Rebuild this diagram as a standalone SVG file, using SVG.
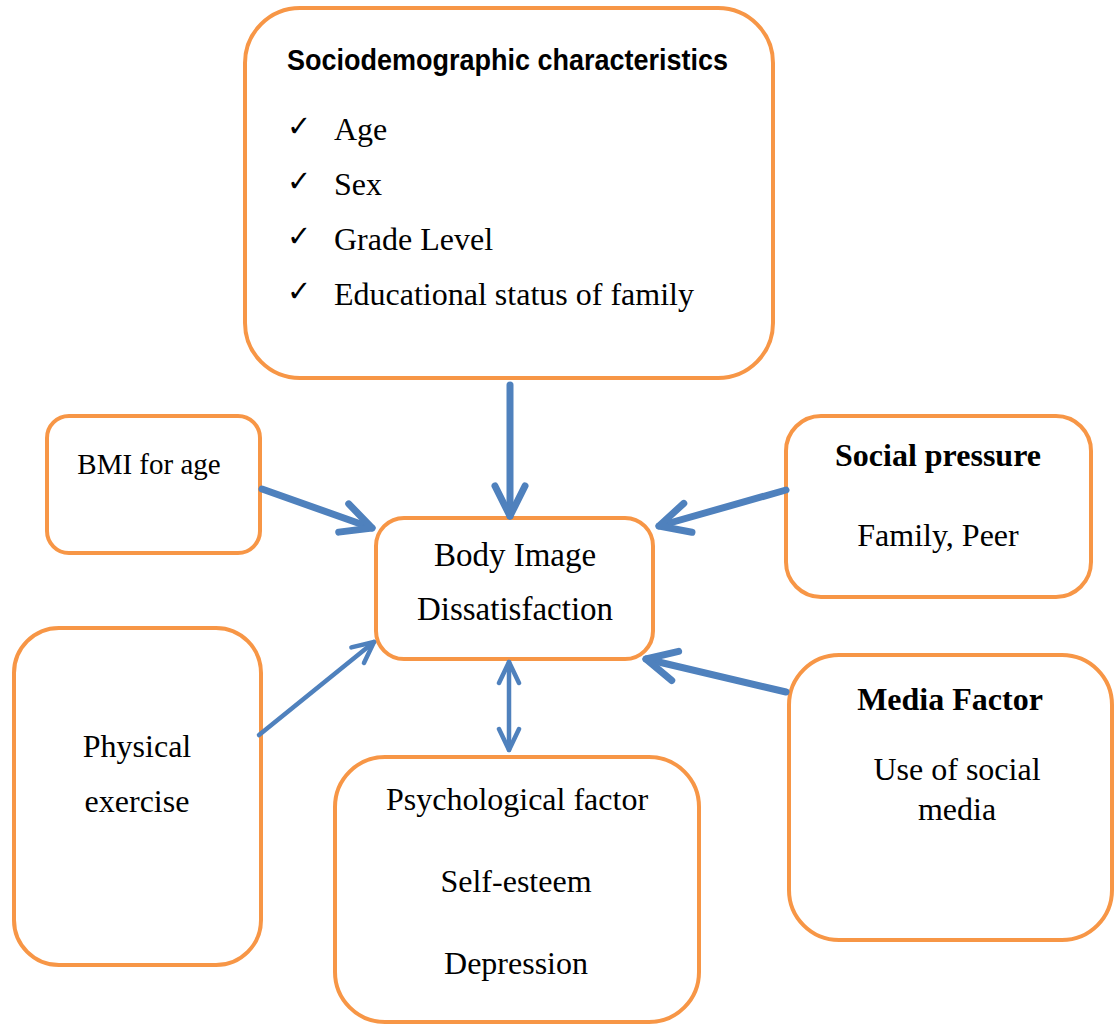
<svg xmlns="http://www.w3.org/2000/svg" width="1116" height="1027" viewBox="0 0 1116 1027">
<style>
.box{fill:#fff;stroke:#F79646;stroke-width:4}
.t{font-family:"Liberation Serif","Times New Roman",serif;font-size:32px;fill:#000}
.c{text-anchor:middle}
.b{font-weight:bold}
.h{font-family:"Liberation Sans",Arial,sans-serif;font-size:29px;font-weight:bold;fill:#000}
.ck{font-family:"DejaVu Sans",sans-serif;font-size:29px;fill:#000}
.thick{fill:none;stroke:#4F81BD;stroke-width:7;stroke-linecap:round}
.thin{fill:none;stroke:#4F81BD;stroke-width:4.5;stroke-linecap:round}
</style>
<defs>
<marker id="ah" markerUnits="userSpaceOnUse" markerWidth="60" markerHeight="60" viewBox="-40 -30 60 60" refX="0" refY="0" orient="auto" overflow="visible">
<path d="M-30,-15 L0,0 L-30,15" fill="none" stroke="#4F81BD" stroke-width="7" stroke-linecap="round" stroke-linejoin="round"/>
</marker>
<marker id="as" markerUnits="userSpaceOnUse" markerWidth="40" markerHeight="40" viewBox="-30 -20 40 40" refX="0" refY="0" orient="auto-start-reverse" overflow="visible">
<path d="M-21,-10 L0,0 L-21,10" fill="none" stroke="#4F81BD" stroke-width="4.5" stroke-linecap="round" stroke-linejoin="round"/>
</marker>
</defs>

<g id="sociodemographic">
<rect class="box" x="245" y="8" width="528" height="370" rx="55"/>
<text class="h" x="287" y="70" textLength="441" lengthAdjust="spacingAndGlyphs">Sociodemographic characteristics</text>
<text class="ck" x="287" y="136">✓</text>
<text class="t" x="334" y="140">Age</text>
<text class="ck" x="287" y="191">✓</text>
<text class="t" x="334" y="195">Sex</text>
<text class="ck" x="287" y="246">✓</text>
<text class="t" x="334" y="250">Grade Level</text>
<text class="ck" x="287" y="301">✓</text>
<text class="t" x="334" y="305">Educational status of family</text>
</g>

<g id="bmi">
<rect class="box" x="47" y="416" width="213" height="137" rx="22"/>
<text class="t c" x="149" y="474" style="font-size:29px">BMI for age</text>
</g>

<g id="body-image">
<rect class="box" x="376" y="518" width="277" height="141" rx="28"/>
<text class="t c" x="515" y="566" style="font-size:33px">Body Image</text>
<text class="t c" x="515" y="620" style="font-size:33px">Dissatisfaction</text>
</g>

<g id="social-pressure">
<rect class="box" x="786" y="416" width="305" height="181" rx="35"/>
<text class="t c b" x="938" y="466">Social pressure</text>
<text class="t c" x="938" y="546">Family, Peer</text>
</g>

<g id="physical-exercise">
<rect class="box" x="14" y="628" width="247" height="337" rx="45"/>
<text class="t c" x="137" y="757">Physical</text>
<text class="t c" x="137" y="812">exercise</text>
</g>

<g id="media-factor">
<rect class="box" x="789" y="655" width="323" height="285" rx="50"/>
<text class="t c b" x="950" y="710">Media Factor</text>
<text class="t c" x="957" y="780">Use of social</text>
<text class="t c" x="957" y="820">media</text>
</g>

<g id="psychological-factor">
<rect class="box" x="335" y="757" width="364" height="265" rx="50"/>
<text class="t c" x="517" y="810">Psychological factor</text>
<text class="t c" x="516" y="892">Self-esteem</text>
<text class="t c" x="516" y="974">Depression</text>
</g>

<g id="connectors">
<path class="thick" d="M510,385 L510,516" marker-end="url(#ah)"/>
<path class="thick" d="M262,489 L372,528" marker-end="url(#ah)"/>
<path class="thick" d="M786,490 L659,526" marker-end="url(#ah)"/>
<path class="thick" d="M786,692 L646,659" marker-end="url(#ah)"/>
<path class="thin" d="M259,735 L374,642" marker-end="url(#as)"/>
<path class="thin" d="M509,662 L509,750" marker-start="url(#as)" marker-end="url(#as)"/>
</g>
</svg>
